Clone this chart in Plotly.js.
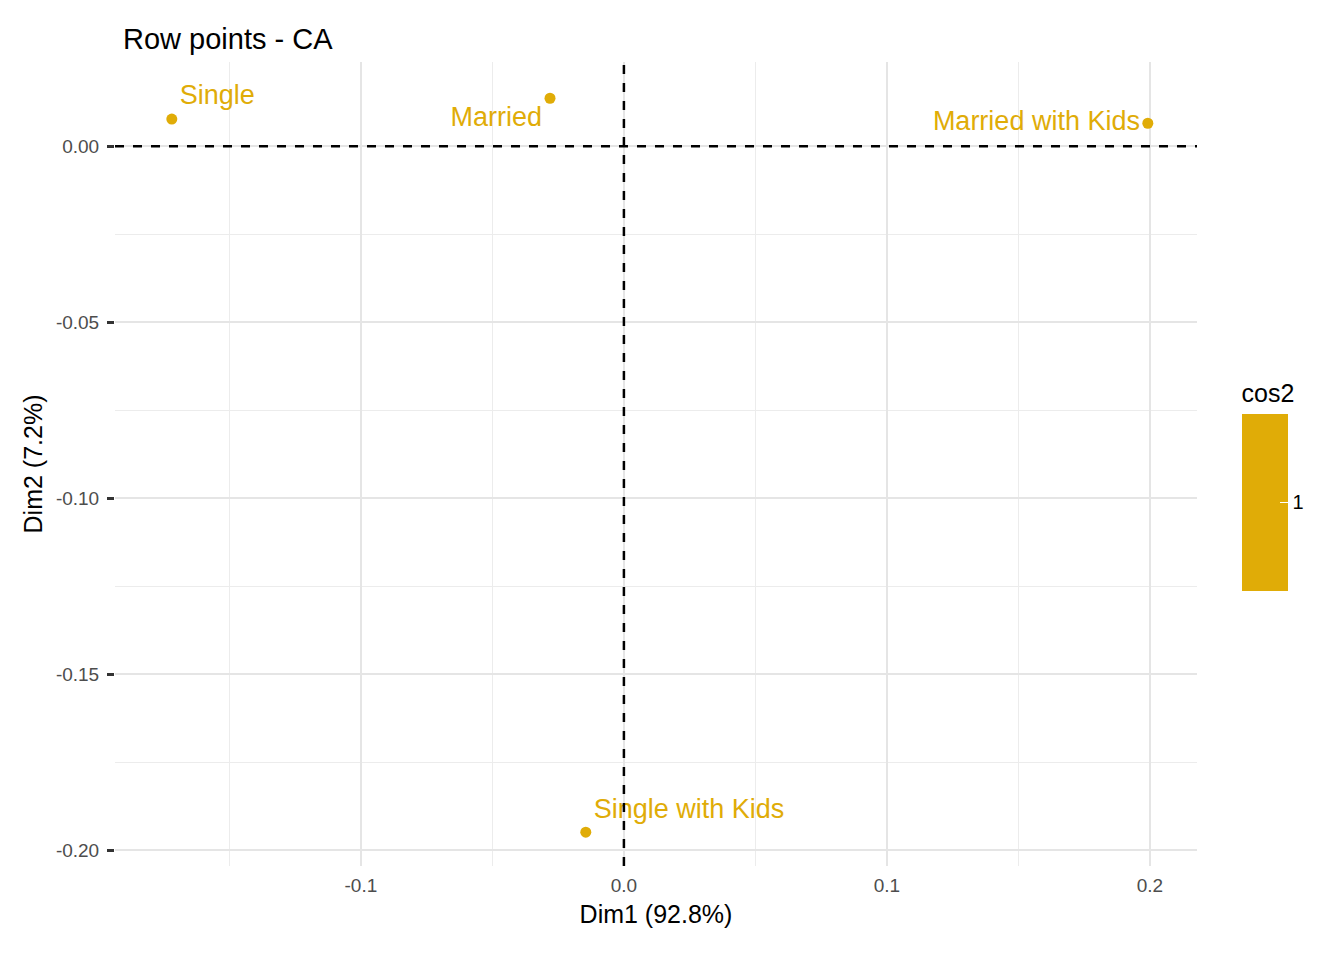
<!DOCTYPE html>
<html><head><meta charset="utf-8">
<script src="https://cdn.plot.ly/plotly-3.0.1.min.js"></script>
<style>body{margin:0}</style></head>
<body><div id="plot" style="width:1344px;height:960px"></div>
<script>
var labels = ["Single", "Married", "Married with Kids", "Single with Kids"];
var dim1 = [-0.1719, -0.0281, 0.1992, -0.0145];
var dim2 = [0.0077, 0.0136, 0.0065, -0.1949];
var cos2 = [1, 1, 1, 1];
var positions = ["top right", "bottom left", "middle left", "top right"];
var col = "#E0AC07";

var trace = {
  x: dim1, y: dim2, text: labels, mode: "markers+text", type: "scatter",
  textposition: positions,
  textfont: {color: col, size: 27, family: "Liberation Sans, Arial"},
  marker: {size: 11, color: cos2, colorscale: [[0, col], [1, col]], cmin: 0, cmax: 2,
    showscale: true,
    colorbar: {title: {text: "cos2", side: "top", font: {size: 25, color: "#000"}},
      tickvals: [1], ticktext: ["1"], ticks: "inside", ticklen: 8, tickcolor: "#fff",
      thickness: 46, len: 230, lenmode: "pixels", x: 1.032, xanchor: "left",
      y: 0.473, yanchor: "middle", outlinewidth: 0,
      tickfont: {size: 20, color: "#000"}}}
};
var layout = {
  width: 1344, height: 960,
  margin: {l: 115, r: 147, t: 62, b: 94},
  paper_bgcolor: "#fff", plot_bgcolor: "#fff",
  font: {family: "Liberation Sans, Arial", color: "#000"},
  title: {text: "Row points - CA", x: 123/1344, xanchor: "left", y: 0.97, font: {size: 29}},
  showlegend: false,
  xaxis: {range: [-0.1935, 0.2179], tickvals: [-0.1, 0, 0.1, 0.2], ticktext: ["-0.1", "0.0", "0.1", "0.2"],
    showgrid: true, gridcolor: "#e5e5e5", gridwidth: 2, zeroline: false,
    minor: {tickvals: [-0.15, -0.05, 0.05, 0.15], showgrid: true, gridcolor: "#ececec", gridwidth: 1},
    tickfont: {size: 19, color: "#4d4d4d"}, ticklabelstandoff: 6,
    title: {text: "Dim1 (92.8%)", font: {size: 25}, standoff: 10}},
  yaxis: {range: [-0.2045, 0.0239], tickvals: [0, -0.05, -0.1, -0.15, -0.2],
    ticktext: ["0.00", "-0.05", "-0.10", "-0.15", "-0.20"],
    showgrid: true, gridcolor: "#e5e5e5", gridwidth: 2, zeroline: false,
    ticks: "outside", ticklen: 7, tickcolor: "#333", tickwidth: 3, ticklabelstandoff: 4,
    minor: {tickvals: [-0.025, -0.075, -0.125, -0.175], showgrid: true, gridcolor: "#ececec", gridwidth: 1},
    tickfont: {size: 19, color: "#4d4d4d"},
    title: {text: "Dim2 (7.2%)", font: {size: 25}, standoff: 6}},
  shapes: [
    {type: "line", xref: "x", yref: "paper", x0: 0, x1: 0, y0: 0, y1: 1, line: {color: "#000", width: 2.5, dash: "dash"}},
    {type: "line", xref: "paper", yref: "y", x0: 0, x1: 1, y0: 0, y1: 0, line: {color: "#000", width: 2.5, dash: "dash"}}
  ]
};
Plotly.newPlot("plot", [trace], layout, {displayModeBar: false});
</script></body></html>
